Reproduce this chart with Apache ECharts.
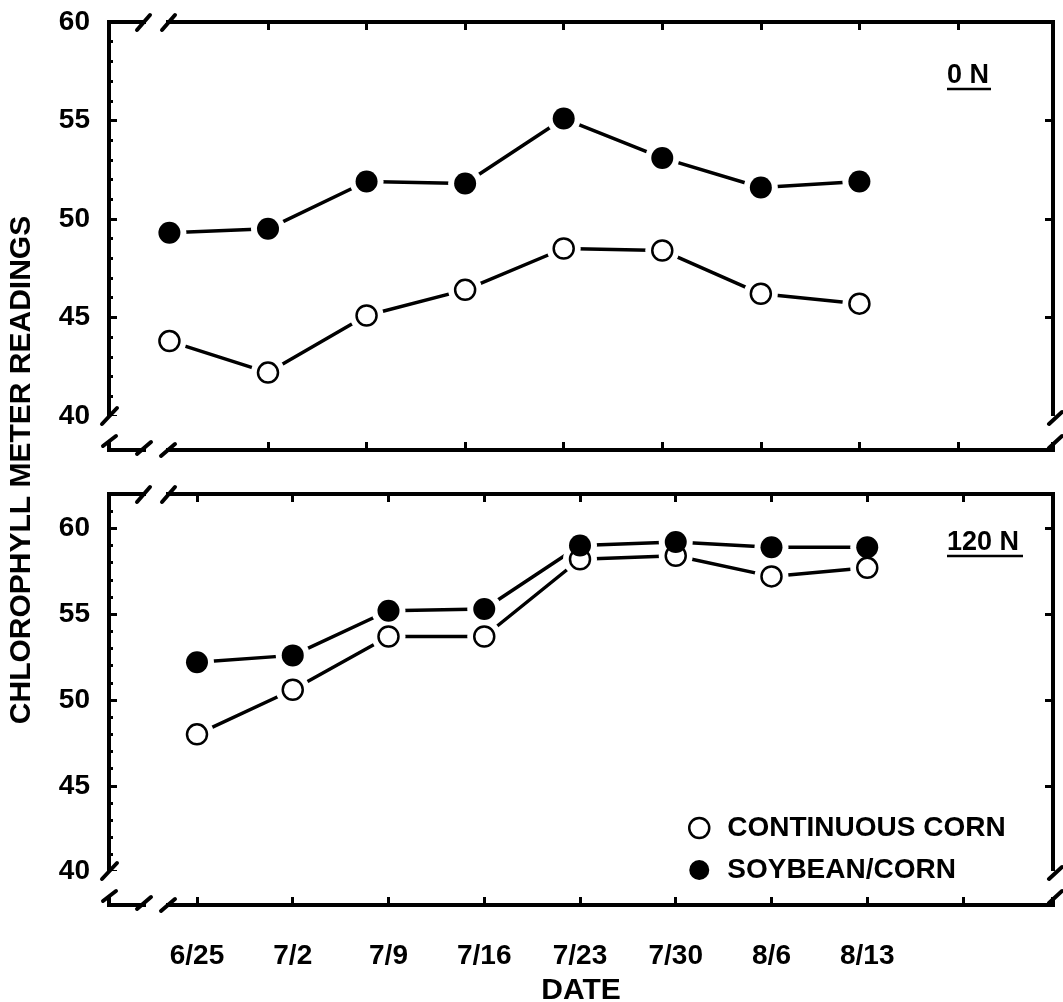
<!DOCTYPE html>
<html>
<head>
<meta charset="utf-8">
<script src="https://cdn.jsdelivr.net/npm/echarts@6/dist/echarts.min.js"></script>
<style>
html, body { margin: 0; padding: 0; background: #fff; }
#chart1 { width: 1063px; height: 1002px; }
</style>
</head>
<body>
<div id="chart1"></div>
<script>
// sampling dates (x categories)
const dates = ['6/25', '7/2', '7/9', '7/16', '7/23', '7/30', '8/6', '8/13'];
const yTicks = [40, 45, 50, 55, 60];

// 0 N panel
const contCorn0 = [43.8, 42.2, 45.1, 46.4, 48.5, 48.4, 46.2, 45.7];
const soyCorn0 = [49.3, 49.5, 51.9, 51.8, 55.1, 53.1, 51.6, 51.9];

// 120 N panel
const contCorn120 = [48.0, 50.6, 53.7, 53.7, 58.2, 58.4, 57.2, 57.7];
const soyCorn120 = [52.2, 52.6, 55.2, 55.3, 59.0, 59.2, 58.9, 58.9];

const FONT = "'Liberation Sans', Arial, Helvetica, sans-serif";
const idx = dates.map((d, i) => i);

function minorTicks(lo, hi) {
    const out = [];
    for (let v = lo; v <= hi; v++) if (v % 5 !== 0) out.push(v);
    return out;
}

function xAx(grid, pos, min, max, ticks, extra) {
    return Object.assign({
        type: 'value', gridIndex: grid, position: pos, min: min, max: max,
        axisLine: { show: false, onZero: false },
        axisTick: { show: true, inside: true, length: 8, customValues: ticks, lineStyle: { color: '#000', width: 3 } },
        axisLabel: { show: false },
        splitLine: { show: false }
    }, extra || {});
}

function yAx(grid, pos, min, max, ticks, len, extra) {
    return Object.assign({
        type: 'value', gridIndex: grid, position: pos, min: min, max: max,
        axisLine: { show: false, onZero: false },
        axisTick: { show: true, inside: true, length: len, customValues: ticks, lineStyle: { color: '#000', width: 3 } },
        axisLabel: { show: false },
        splitLine: { show: false }
    }, extra || {});
}

const yLabel = {
    show: true, customValues: yTicks, margin: 19, color: '#000',
    fontSize: 28, fontWeight: 'bold', fontFamily: FONT
};

function lineSeries(name, values, xi, yi, open) {
    const pts = values.map((v, i) => [i, v]);
    return [
        { type: 'line', xAxisIndex: xi, yAxisIndex: yi, data: pts, symbol: 'none', z: 2, silent: true,
          lineStyle: { color: '#000', width: 3.5 } },
        // white halo so the joining line stops short of each marker
        { type: 'scatter', xAxisIndex: xi, yAxisIndex: yi, data: pts, symbolSize: 34, z: 3, silent: true,
          itemStyle: { color: '#fff', opacity: 1 } },
        { name: name, type: 'scatter', xAxisIndex: xi, yAxisIndex: yi, data: pts, symbolSize: open ? 20 : 22, z: 4,
          itemStyle: open ? { color: '#fff', borderColor: '#000', borderWidth: 2.5, opacity: 1 } : { color: '#000', opacity: 1 } }
    ];
}

// break marks on the frame
function slash(x1, y1, x2, y2) {
    return { type: 'line', z: 101, shape: { x1: x1, y1: y1, x2: x2, y2: y2 },
             style: { stroke: '#000', lineWidth: 4, lineCap: 'round' } };
}
function cut(x, y, w, h) {
    return { type: 'rect', z: 100, shape: { x: x, y: y, width: w, height: h }, style: { fill: '#fff' } };
}
function breaks(T, B) {
    return [
        // top-left
        cut(146, T - 6, 20, 12), slash(137, T + 8, 150, T - 7), slash(162, T + 8, 175, T - 7),
        // left axis bottom
        cut(100, B - 34, 20, 26), slash(102, B - 26, 117, B - 42), slash(103, B - 4, 116, B - 14),
        // bottom-left
        cut(146, B - 6, 20, 12), slash(137, B + 4, 151, B - 8), slash(161, B + 6, 175, B - 6),
        // right axis bottom
        cut(1044, B - 34, 19, 26), slash(1049, B - 26, 1062, B - 38), slash(1049, B - 2, 1062, B - 14)
    ];
}

function panelTag(text, x, y, w) {
    return [
        { type: 'text', z: 102, x: x, y: y,
          style: { text: text, fill: '#000', font: 'bold 27px ' + FONT, textAlign: 'left', textVerticalAlign: 'middle' } },
        { type: 'line', z: 102, shape: { x1: x, y1: y + 13, x2: x + w, y2: y + 13 },
          style: { stroke: '#000', lineWidth: 2.5 } }
    ];
}

const chart = echarts.init(document.getElementById('chart1'));

const option = {
    backgroundColor: '#fff',
    animation: false,
    grid: [
        { left: 109, top: 22, width: 944, height: 428, show: true, borderColor: '#000', borderWidth: 4,
          backgroundColor: 'transparent', outerBoundsMode: 'none', containLabel: false },
        { left: 109, top: 494, width: 944, height: 411, show: true, borderColor: '#000', borderWidth: 4,
          backgroundColor: 'transparent', outerBoundsMode: 'none', containLabel: false }
    ],
    xAxis: [
        xAx(0, 'bottom', -0.613, 8.964, [1, 2, 3, 4, 5, 6, 7, 8]),
        xAx(0, 'top', -0.613, 8.964, [1, 2, 3, 4, 5, 6, 7, 8]),
        xAx(1, 'bottom', -0.919, 8.94, [0, 1, 2, 3, 4, 5, 6, 7, 8], {
            axisLabel: {
                show: true, customValues: idx, margin: 37, color: '#000',
                fontSize: 28, fontWeight: 'bold', fontFamily: FONT,
                formatter: v => dates[Math.round(v)]
            },
            name: 'DATE', nameLocation: 'middle', nameGap: 71,
            nameTextStyle: { color: '#000', fontSize: 30, fontWeight: 'bold', fontFamily: FONT }
        }),
        xAx(1, 'top', -0.919, 8.94, [0, 1, 2, 3, 4, 5, 6, 7, 8])
    ],
    yAxis: [
        yAx(0, 'left', 38.27, 60, yTicks, 8, { axisLabel: yLabel }),
        yAx(0, 'left', 38.27, 60, minorTicks(41, 59), 4),
        yAx(0, 'right', 38.27, 60, [45, 50, 55], 8),
        yAx(1, 'left', 38.06, 62.0, yTicks, 8, { axisLabel: yLabel }),
        yAx(1, 'left', 38.06, 62.0, minorTicks(41, 61), 4),
        yAx(1, 'right', 38.06, 62.0, [45, 50, 55, 60], 8)
    ],
    legend: {
        orient: 'vertical', left: 683, top: 809,
        itemWidth: 20, itemHeight: 20, itemGap: 14,
        textStyle: { color: '#000', fontSize: 28, lineHeight: 28, fontWeight: 'bold', fontFamily: FONT, padding: [0, 0, 0, 13] },
        data: [
            { name: 'CONTINUOUS CORN', icon: 'circle', itemStyle: { color: '#fff', borderColor: '#000', borderWidth: 2.5 } },
            { name: 'SOYBEAN/CORN', icon: 'circle', itemStyle: { color: '#000' } }
        ]
    },
    graphic: [
        { type: 'text', z: 102, x: 22, y: 470, rotation: Math.PI / 2,
          style: { text: 'CHLOROPHYLL METER READINGS', fill: '#000', font: 'bold 30px ' + FONT,
                   textAlign: 'center', textVerticalAlign: 'middle' } }
    ].concat(panelTag('0 N', 947, 76, 44), panelTag('120 N', 947, 543, 76), breaks(22, 450), breaks(494, 905)),
    series: [].concat(
        lineSeries('CONTINUOUS CORN', contCorn0, 0, 0, true),
        lineSeries('SOYBEAN/CORN', soyCorn0, 0, 0, false),
        lineSeries('CONTINUOUS CORN', contCorn120, 2, 3, true),
        lineSeries('SOYBEAN/CORN', soyCorn120, 2, 3, false)
    )
};

chart.setOption(option);
window.addEventListener('resize', function () { chart.resize(); });
</script>
</body>
</html>
